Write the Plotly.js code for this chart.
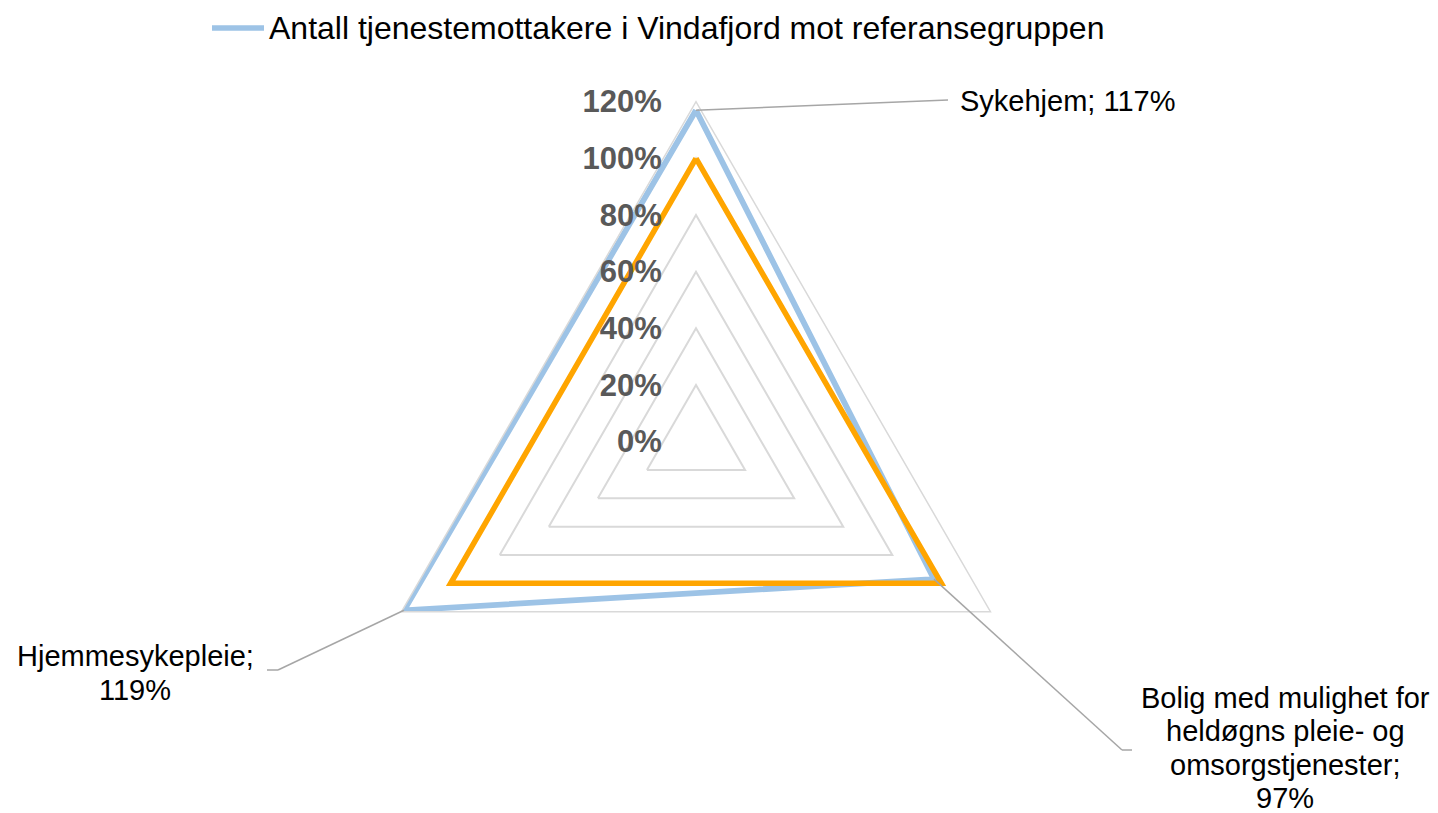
<!DOCTYPE html>
<html>
<head>
<meta charset="utf-8">
<script src="https://cdn.plot.ly/plotly-3.0.1.min.js"></script>
<style>html,body{margin:0;padding:0;background:#fff;}#chart{width:1438px;height:813px;}</style>
</head>
<body>
<div id="chart"></div>
<script>
// ---- data ----
const categories = ["Sykehjem", "Bolig med mulighet for heldøgns pleie- og omsorgstjenester", "Hjemmesykepleie"];
const categoryLabels = ["Sykehjem", "Bolig med mulighet for<br>heldøgns pleie- og<br>omsorgstjenester", "Hjemmesykepleie"];
const seriesName = "Antall tjenestemottakere i Vindafjord mot referansegruppen";
const vindafjord = [117, 97, 119];
const referanse = [100, 100, 100];
const radialTicks = [0, 20, 40, 60, 80, 100, 120];
const radialTickText = ["0%", "20%", "40%", "60%", "80%", "100%", "120%"];

// ---- geometry ----
const W = 1438, H = 813;
const cx = 696, cy = 441.7, R = 340, rMax = 120;
function domainAt(x0, y0) {
  return {x: [(x0 - R) / W, (x0 + R) / W], y: [(H - y0 - R) / H, (H - y0 + R) / H]};
}
const dom = domainAt(cx, cy);
const domLabels = domainAt(cx - 12, cy - 5); // tick-label overlay, nudged like the reference
function vertexPx(r, i) {
  const ang = (90 - i * 360 / categories.length) * Math.PI / 180;
  const rr = r / rMax * R;
  return [cx + rr * Math.cos(ang), cy - rr * Math.sin(ang)];
}
const px2x = p => p / W, px2y = p => 1 - p / H;
const closeArr = a => a.concat([a[0]]);

const blue = '#9DC3E6', orange = '#FFA500';
const traces = [
  {
    type: 'scatterpolar', mode: 'lines',
    r: closeArr(vindafjord), theta: closeArr(categories),
    name: seriesName,
    line: {color: blue, width: 5.8},
    showlegend: false
  },
  {
    type: 'scatterpolar', mode: 'lines',
    r: closeArr(referanse), theta: closeArr(categories),
    line: {color: orange, width: 5.5},
    showlegend: false, hoverinfo: 'skip'
  },
  {
    type: 'scatterpolar', mode: 'lines', subplot: 'polar2',
    r: [], theta: [], showlegend: false, hoverinfo: 'skip'
  }
];

const labelCfg = [
  {elbow: [948, 100], end: [948, 100], tx: 958, ty: 101, anchor: 'left', sep: '; '},
  {elbow: [1122, 750], end: [1132, 750], tx: 1285, ty: 748, anchor: 'center', sep: ';<br>'},
  {elbow: [278, 670], end: [267, 670], tx: 135, ty: 673, anchor: 'center', sep: ';<br>'}
];
const lineGap = 33.3;
const shapes = [];
const annotations = [];
const fam = 'Liberation Sans, Arial, sans-serif';
const labelFont = {family: fam, size: 29, color: '#000000'};
categories.forEach((c, i) => {
  const v = vertexPx(vindafjord[i], i);
  const cfg = labelCfg[i];
  shapes.push({type: 'line', xref: 'paper', yref: 'paper',
    x0: px2x(v[0]), y0: px2y(v[1]), x1: px2x(cfg.elbow[0]), y1: px2y(cfg.elbow[1]),
    line: {color: '#A6A6A6', width: 1.5}});
  shapes.push({type: 'line', xref: 'paper', yref: 'paper',
    x0: px2x(cfg.elbow[0]), y0: px2y(cfg.elbow[1]), x1: px2x(cfg.end[0]), y1: px2y(cfg.end[1]),
    line: {color: '#A6A6A6', width: 1.5}});
  const text = categoryLabels[i] + cfg.sep + vindafjord[i] + '%';
  const lines = text.split('<br>');
  const n = lines.length;
  lines.forEach((ln, k) => {
    const y = cfg.ty + (k - (n - 1) / 2) * lineGap;
    annotations.push({xref: 'paper', yref: 'paper', x: px2x(cfg.tx), y: px2y(y),
      xanchor: cfg.anchor, yanchor: 'middle', text: ln, showarrow: false, font: labelFont});
  });
});

// legend (line sample + text)
shapes.push({type: 'line', xref: 'paper', yref: 'paper',
  x0: px2x(212), y0: px2y(28), x1: px2x(264), y1: px2y(28),
  line: {color: blue, width: 5.5}});
annotations.push({xref: 'paper', yref: 'paper', x: px2x(267), y: px2y(28),
  xanchor: 'left', yanchor: 'middle', text: seriesName, showarrow: false,
  font: {family: fam, size: 32, color: '#000000'}});

const layout = {
  width: W, height: H,
  margin: {l: 0, r: 0, t: 0, b: 0},
  paper_bgcolor: '#ffffff',
  showlegend: false,
  polar: {
    domain: dom,
    gridshape: 'linear',
    bgcolor: 'rgba(0,0,0,0)',
    radialaxis: {
      range: [0, rMax], angle: 90,
      tickvals: radialTicks, showticklabels: false,
      showline: false, ticks: '', gridcolor: '#D9D9D9', gridwidth: 1.5
    },
    angularaxis: {
      direction: 'clockwise', rotation: 90,
      showgrid: false, showticklabels: false, ticks: '',
      showline: true, linecolor: '#D9D9D9', linewidth: 1.5
    }
  },
  polar2: {
    domain: domLabels,
    gridshape: 'linear',
    bgcolor: 'rgba(0,0,0,0)',
    radialaxis: {
      range: [0, rMax], angle: 90, side: 'counterclockwise',
      tickvals: radialTicks, ticktext: radialTickText,
      showline: false, showgrid: false, ticks: '',
      tickfont: {family: fam, size: 31, color: '#595959', weight: 'bold'}
    },
    angularaxis: {
      direction: 'clockwise', rotation: 90,
      showgrid: false, showticklabels: false, ticks: '', showline: false
    }
  },
  shapes: shapes,
  annotations: annotations
};

Plotly.newPlot('chart', traces, layout, {displayModeBar: false, responsive: false});
</script>
</body>
</html>
